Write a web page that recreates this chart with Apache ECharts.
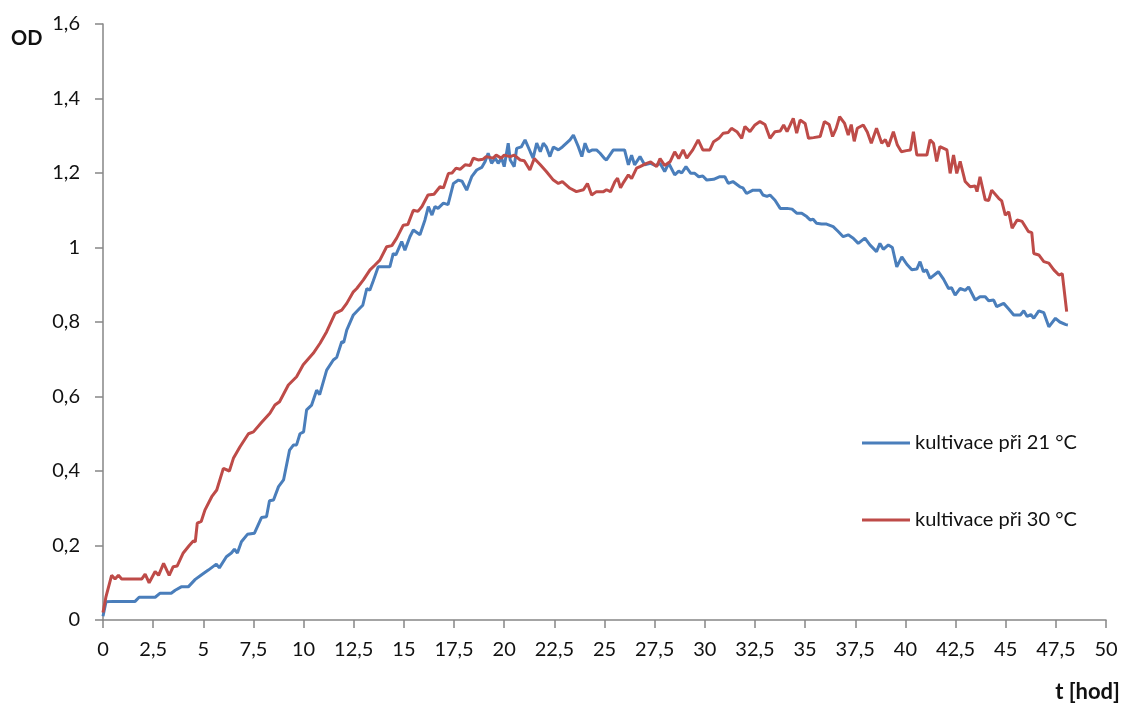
<!DOCTYPE html>
<html>
<head>
<meta charset="utf-8">
<script src="https://cdn.jsdelivr.net/npm/echarts@6/dist/echarts.min.js"></script>
<style>
  html, body { margin: 0; padding: 0; background: #fff; }
  #main { width: 1124px; height: 704px; }
</style>
</head>
<body>
<div id="main"></div>
<script>
var seriesNames = ['kultivace při 21 °C', 'kultivace při 30 °C'];

var time21 = [0, 0.15, 0.5, 1.0, 1.6, 1.8, 2.6, 2.85, 3.4, 3.6, 3.9, 4.25, 4.6, 4.9, 5.25, 5.65, 5.8, 6.15, 6.4, 6.55,
    6.7, 6.9, 7.2, 7.55, 7.9, 8.15, 8.3, 8.5, 8.75, 9.0, 9.3, 9.5, 9.65, 9.82, 10.0, 10.15, 10.4, 10.65, 10.8, 11.15,
    11.48, 11.65, 11.9, 12.0, 12.15, 12.48, 12.8, 12.95, 13.15, 13.3, 13.47, 13.72, 14.3, 14.47, 14.6, 14.89, 15.05, 15.3, 15.47, 15.8,
    16.05, 16.22, 16.4, 16.55, 16.7, 16.97, 17.2, 17.47, 17.72, 17.9, 18.13, 18.38, 18.63, 18.88, 19.05, 19.2, 19.37, 19.55, 19.7, 19.87,
    20.0, 20.2, 20.3, 20.5, 20.62, 20.85, 21.04, 21.3, 21.44, 21.62, 21.8, 21.95, 22.1, 22.28, 22.45, 22.7, 22.9, 23.28, 23.45, 23.7,
    23.87, 24.03, 24.2, 24.4, 24.6, 24.78, 25.0, 25.1, 25.44, 26.0, 26.19, 26.35, 26.5, 26.77, 27.0, 27.3, 27.55, 27.77, 28.0, 28.2,
    28.5, 28.7, 28.85, 29.06, 29.3, 29.5, 29.7, 29.9, 30.1, 30.44, 30.75, 31.0, 31.17, 31.4, 31.75, 31.9, 32.08, 32.4, 32.75, 32.9,
    33.1, 33.25, 33.5, 33.76, 34.1, 34.35, 34.58, 34.83, 35.08, 35.25, 35.4, 35.57, 35.82, 36.07, 36.4, 36.65, 36.9, 37.15, 37.4, 37.65,
    37.98, 38.23, 38.56, 38.73, 38.9, 39.15, 39.35, 39.57, 39.82, 40.07, 40.32, 40.57, 40.73, 40.9, 41.05, 41.23, 41.64, 41.9, 42.15, 42.3,
    42.48, 42.73, 42.98, 43.15, 43.48, 43.72, 43.98, 44.15, 44.4, 44.55, 44.9, 45.15, 45.4, 45.73, 45.9, 46.07, 46.25, 46.4, 46.65, 46.9,
    47.15, 47.48, 47.7, 48.0, 48.1];
var od21 = [0.01, 0.049, 0.05, 0.05, 0.05, 0.061, 0.061, 0.072, 0.072, 0.08, 0.089, 0.089, 0.109, 0.121, 0.134, 0.15, 0.14, 0.17, 0.18, 0.19,
    0.18, 0.21, 0.23, 0.233, 0.275, 0.277, 0.32, 0.322, 0.358, 0.376, 0.456, 0.47, 0.47, 0.50, 0.505, 0.564, 0.577, 0.617, 0.605, 0.671,
    0.698, 0.705, 0.747, 0.745, 0.778, 0.819, 0.837, 0.845, 0.89, 0.885, 0.91, 0.948, 0.948, 0.984, 0.98, 1.016, 0.993, 1.029, 1.047, 1.034,
    1.074, 1.11, 1.087, 1.11, 1.105, 1.119, 1.115, 1.172, 1.181, 1.178, 1.154, 1.19, 1.208, 1.215, 1.231, 1.253, 1.226, 1.24, 1.226, 1.24,
    1.217, 1.28, 1.235, 1.217, 1.266, 1.27, 1.289, 1.257, 1.24, 1.28, 1.257, 1.28, 1.27, 1.244, 1.27, 1.262, 1.27, 1.289, 1.302, 1.27,
    1.244, 1.28, 1.257, 1.262, 1.262, 1.253, 1.239, 1.235, 1.262, 1.262, 1.222, 1.248, 1.222, 1.244, 1.222, 1.226, 1.22, 1.226, 1.204, 1.226,
    1.195, 1.205, 1.2, 1.217, 1.199, 1.199, 1.19, 1.192, 1.181, 1.183, 1.19, 1.19, 1.172, 1.177, 1.163, 1.16, 1.145, 1.154, 1.154, 1.141,
    1.137, 1.141, 1.127, 1.105, 1.105, 1.103, 1.092, 1.092, 1.083, 1.074, 1.076, 1.065, 1.063, 1.063, 1.056, 1.043, 1.029, 1.034, 1.025, 1.011,
    1.025, 1.007, 0.989, 1.011, 0.995, 1.007, 1.0, 0.948, 0.975, 0.955, 0.94, 0.942, 0.962, 0.935, 0.94, 0.917, 0.935, 0.915, 0.89, 0.892,
    0.872, 0.89, 0.885, 0.894, 0.859, 0.868, 0.868, 0.857, 0.859, 0.841, 0.85, 0.835, 0.819, 0.819, 0.83, 0.815, 0.82, 0.81, 0.83, 0.825,
    0.787, 0.81, 0.8, 0.793, 0.792];

var time30 = [0, 0.15, 0.43, 0.6, 0.77, 0.93, 1.5, 1.93, 2.1, 2.3, 2.6, 2.77, 3.02, 3.3, 3.5, 3.7, 4.0, 4.3, 4.5, 4.6,
    4.7, 4.9, 5.08, 5.42, 5.67, 6.0, 6.3, 6.5, 6.83, 7.25, 7.5, 7.9, 8.32, 8.57, 8.8, 9.24, 9.65, 9.98, 10.48, 10.82,
    11.15, 11.57, 11.9, 12.15, 12.48, 12.65, 12.98, 13.31, 13.56, 13.8, 14.14, 14.4, 14.64, 14.97, 15.2, 15.47, 15.7, 15.9, 16.2, 16.5,
    16.8, 16.97, 17.22, 17.4, 17.6, 17.8, 18.05, 18.3, 18.46, 18.7, 18.95, 19.1, 19.45, 19.6, 19.85, 20.0, 20.3, 20.5, 20.8, 21.0,
    21.28, 21.5, 21.8, 22.1, 22.45, 22.7, 22.9, 23.28, 23.6, 23.95, 24.15, 24.36, 24.6, 24.95, 25.1, 25.3, 25.52, 25.65, 25.8, 25.95,
    26.19, 26.35, 26.6, 26.77, 27.1, 27.3, 27.6, 27.77, 28.0, 28.28, 28.5, 28.7, 28.92, 29.1, 29.4, 29.67, 29.9, 30.25, 30.44, 30.7,
    30.92, 31.17, 31.33, 31.6, 31.84, 32.0, 32.25, 32.5, 32.75, 33.0, 33.25, 33.5, 33.76, 33.93, 34.1, 34.26, 34.41, 34.58, 34.75, 35.0,
    35.17, 35.42, 35.75, 35.96, 36.2, 36.37, 36.55, 36.72, 36.97, 37.15, 37.3, 37.45, 37.6, 37.9, 38.1, 38.3, 38.56, 38.82, 39.0, 39.15,
    39.4, 39.6, 39.8, 40.05, 40.25, 40.4, 40.57, 41.07, 41.23, 41.4, 41.56, 41.72, 42.07, 42.23, 42.4, 42.56, 42.73, 42.98, 43.23, 43.48,
    43.57, 43.72, 43.98, 44.15, 44.3, 44.65, 44.8, 44.98, 45.15, 45.32, 45.57, 45.82, 46.13, 46.3, 46.4, 46.65, 46.9, 47.15, 47.4, 47.65,
    47.82, 48.04];
var od30 = [0.02, 0.063, 0.12, 0.11, 0.12, 0.11, 0.11, 0.11, 0.123, 0.10, 0.13, 0.12, 0.152, 0.12, 0.143, 0.145, 0.18, 0.20, 0.212, 0.21,
    0.26, 0.265, 0.295, 0.331, 0.349, 0.407, 0.40, 0.434, 0.465, 0.50, 0.505, 0.53, 0.555, 0.577, 0.586, 0.631, 0.653, 0.685, 0.716, 0.743,
    0.774, 0.823, 0.832, 0.85, 0.881, 0.89, 0.913, 0.94, 0.953, 0.966, 1.002, 1.005, 1.025, 1.06, 1.062, 1.10, 1.097, 1.11, 1.141, 1.143,
    1.163, 1.16, 1.199, 1.2, 1.213, 1.21, 1.222, 1.22, 1.24, 1.235, 1.237, 1.244, 1.24, 1.248, 1.24, 1.248, 1.244, 1.248, 1.235, 1.233,
    1.208, 1.239, 1.222, 1.204, 1.181, 1.172, 1.177, 1.159, 1.15, 1.155, 1.172, 1.141, 1.15, 1.15, 1.155, 1.15, 1.177, 1.186, 1.16, 1.175,
    1.195, 1.185, 1.213, 1.217, 1.226, 1.23, 1.217, 1.239, 1.22, 1.231, 1.257, 1.239, 1.262, 1.24, 1.262, 1.289, 1.262, 1.262, 1.284, 1.293,
    1.307, 1.309, 1.32, 1.311, 1.293, 1.325, 1.311, 1.329, 1.338, 1.33, 1.293, 1.311, 1.313, 1.329, 1.311, 1.329, 1.347, 1.307, 1.342, 1.333,
    1.293, 1.295, 1.298, 1.338, 1.33, 1.298, 1.32, 1.351, 1.333, 1.302, 1.33, 1.285, 1.32, 1.329, 1.31, 1.28, 1.32, 1.28, 1.29, 1.271,
    1.311, 1.275, 1.257, 1.26, 1.262, 1.311, 1.248, 1.248, 1.289, 1.28, 1.231, 1.271, 1.262, 1.199, 1.248, 1.199, 1.231, 1.177, 1.163, 1.165,
    1.15, 1.19, 1.128, 1.126, 1.154, 1.132, 1.125, 1.087, 1.096, 1.052, 1.074, 1.07, 1.043, 1.04, 0.984, 0.98, 0.962, 0.958, 0.94, 0.926,
    0.93, 0.828];

function pairs(t, v) {
    return t.map(function (x, i) { return [x, v[i]]; });
}
function comma(value) {
    return String(parseFloat(value.toFixed(1))).replace('.', ',');
}

var font = 'Lato, "Open Sans", sans-serif',
    axisGray = '#868686',
    textColor = '#111',
    myChart = echarts.init(document.getElementById('main'), null, { renderer: 'canvas' }),
    option = {
        backgroundColor: '#fff',
        animation: false,
        grid: { left: 103, right: 18, top: 24, bottom: 84 },
        legend: {
            orient: 'vertical',
            left: 857,
            top: 428,
            icon: 'rect',
            itemWidth: 48,
            itemHeight: 3,
            itemGap: 57,
            textStyle: { fontFamily: font, fontSize: 20, color: textColor },
            data: seriesNames
        },
        xAxis: {
            type: 'value',
            min: 0,
            max: 50,
            interval: 2.5,
            splitLine: { show: false },
            axisLine: { lineStyle: { color: axisGray, width: 1.5 } },
            axisTick: { show: true, inside: false, length: 8, lineStyle: { color: axisGray, width: 1.5 } },
            axisLabel: { margin: 20, color: textColor, fontFamily: font, fontSize: 20, formatter: comma }
        },
        yAxis: {
            type: 'value',
            min: 0,
            max: 1.6,
            interval: 0.2,
            splitLine: { show: false },
            axisLine: { show: true, lineStyle: { color: axisGray, width: 1.5 } },
            axisTick: { show: true, inside: false, length: 8, lineStyle: { color: axisGray, width: 1.5 } },
            axisLabel: { margin: 23, color: textColor, fontFamily: font, fontSize: 20, formatter: comma }
        },
        graphic: [
            { type: 'text', left: 11, top: 29, style: { text: 'OD', fontFamily: font, fontWeight: 'bold', fontSize: 20, fill: textColor } },
            { type: 'text', right: 4, top: 681, style: { text: 't [hod]', fontFamily: font, fontWeight: 'bold', fontSize: 22, fill: textColor } }
        ],
        series: [
            {
                name: seriesNames[0], type: 'line', symbol: 'none', data: pairs(time21, od21),
                itemStyle: { color: '#4a7ebb' }, lineStyle: { color: '#4a7ebb', width: 3 }
            },
            {
                name: seriesNames[1], type: 'line', symbol: 'none', data: pairs(time30, od30),
                itemStyle: { color: '#be4b48' }, lineStyle: { color: '#be4b48', width: 3 }
            }
        ]
    };

myChart.setOption(option);
</script>
</body>
</html>
